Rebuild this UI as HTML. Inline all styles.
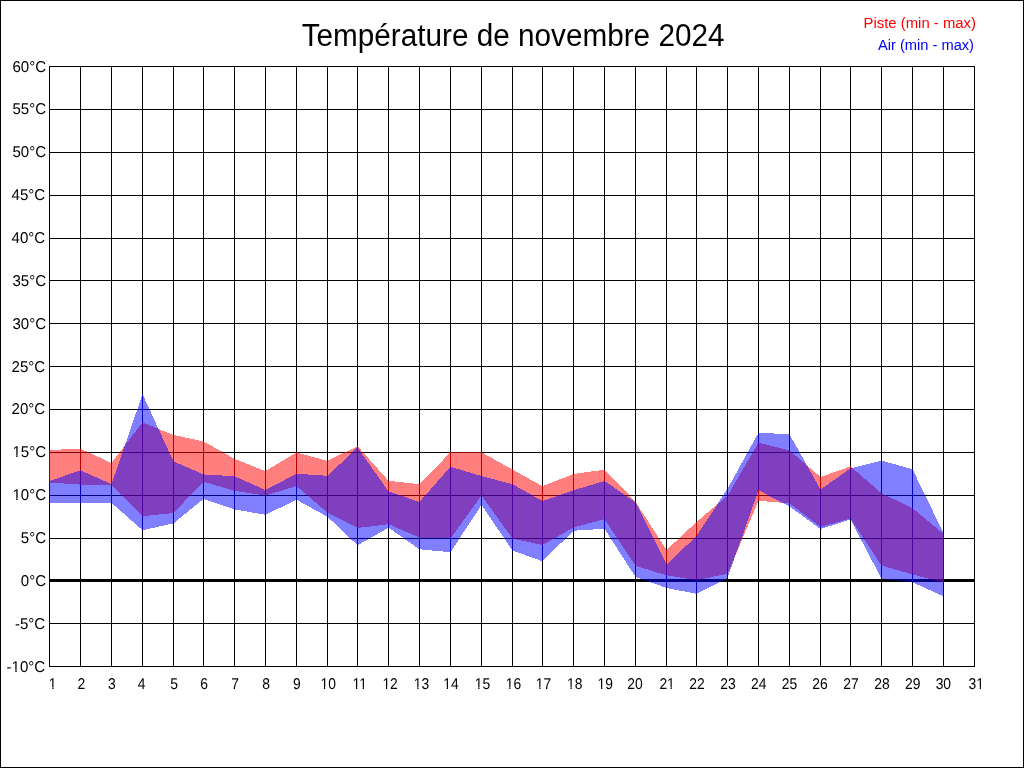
<!DOCTYPE html>
<html><head><meta charset="utf-8"><title>Température de novembre 2024</title>
<style>
html,body{margin:0;padding:0;background:#fff;}
body{width:1024px;height:768px;overflow:hidden;position:relative;}
svg{position:absolute;left:0;top:0;display:block;will-change:transform;}
text{font-family:"Liberation Sans",sans-serif;}
.r{fill:#ff0000;}
.b{fill:#0000ff;}
</style></head><body>
<svg width="1024" height="768" viewBox="0 0 1024 768">
<rect x="0" y="0" width="1024" height="768" fill="#fff"/>
<g fill="#000" shape-rendering="crispEdges">
<rect x="0" y="0" width="1024" height="1"/>
<rect x="0" y="767" width="1024" height="1"/>
<rect x="0" y="0" width="1" height="768"/>
<rect x="1023" y="0" width="1" height="768"/>
<rect x="49" y="66" width="1" height="601"/>
<rect x="80" y="66" width="1" height="601"/>
<rect x="111" y="66" width="1" height="601"/>
<rect x="142" y="66" width="1" height="601"/>
<rect x="173" y="66" width="1" height="601"/>
<rect x="203" y="66" width="1" height="601"/>
<rect x="234" y="66" width="1" height="601"/>
<rect x="265" y="66" width="1" height="601"/>
<rect x="296" y="66" width="1" height="601"/>
<rect x="327" y="66" width="1" height="601"/>
<rect x="357" y="66" width="1" height="601"/>
<rect x="388" y="66" width="1" height="601"/>
<rect x="419" y="66" width="1" height="601"/>
<rect x="450" y="66" width="1" height="601"/>
<rect x="481" y="66" width="1" height="601"/>
<rect x="512" y="66" width="1" height="601"/>
<rect x="542" y="66" width="1" height="601"/>
<rect x="573" y="66" width="1" height="601"/>
<rect x="604" y="66" width="1" height="601"/>
<rect x="635" y="66" width="1" height="601"/>
<rect x="666" y="66" width="1" height="601"/>
<rect x="696" y="66" width="1" height="601"/>
<rect x="727" y="66" width="1" height="601"/>
<rect x="758" y="66" width="1" height="601"/>
<rect x="789" y="66" width="1" height="601"/>
<rect x="820" y="66" width="1" height="601"/>
<rect x="850" y="66" width="1" height="601"/>
<rect x="881" y="66" width="1" height="601"/>
<rect x="912" y="66" width="1" height="601"/>
<rect x="943" y="66" width="1" height="601"/>
<rect x="974" y="66" width="1" height="601"/>
<rect x="49" y="66" width="926" height="1"/>
<rect x="49" y="109" width="926" height="1"/>
<rect x="49" y="152" width="926" height="1"/>
<rect x="49" y="195" width="926" height="1"/>
<rect x="49" y="238" width="926" height="1"/>
<rect x="49" y="280" width="926" height="1"/>
<rect x="49" y="323" width="926" height="1"/>
<rect x="49" y="366" width="926" height="1"/>
<rect x="49" y="409" width="926" height="1"/>
<rect x="49" y="452" width="926" height="1"/>
<rect x="49" y="495" width="926" height="1"/>
<rect x="49" y="538" width="926" height="1"/>
<rect x="49" y="579" width="926" height="3"/>
<rect x="49" y="623" width="926" height="1"/>
<rect x="49" y="666" width="926" height="1"/>
</g>
<g shape-rendering="crispEdges" fill-opacity="0.5"><polygon class="r" points="49,450.02 81,448.68 81,484.63 49,482.57"/>
<polygon class="b" points="49,481.17 81,470.13 81,502.90 49,502.90"/>
<polygon class="r" points="80,448.47 112,463.23 112,484.60 80,484.60"/>
<polygon class="b" points="80,470.08 112,484.42 112,502.90 80,502.90"/>
<polygon class="r" points="111,463.65 143,421.75 143,516.81 111,484.09"/>
<polygon class="b" points="111,485.65 143,392.65 143,530.64 111,502.46"/>
<polygon class="r" points="142,422.20 174,435.20 174,512.95 142,516.35"/>
<polygon class="b" points="142,393.01 174,462.49 174,523.29 142,530.31"/>
<polygon class="r" points="173,434.89 204,441.51 204,481.18 173,513.52"/>
<polygon class="b" points="173,461.18 204,474.62 204,498.49 173,523.81"/>
<polygon class="r" points="203,441.12 235,459.03 235,490.95 203,481.55"/>
<polygon class="b" points="203,474.37 235,476.28 235,509.57 203,498.73"/>
<polygon class="r" points="234,458.55 266,471.30 266,495.58 234,490.72"/>
<polygon class="b" points="234,476.03 266,490.22 266,514.89 234,509.31"/>
<polygon class="r" points="265,471.40 297,452.20 297,485.85 265,495.65"/>
<polygon class="b" points="265,490.26 297,473.44 297,499.56 265,515.04"/>
<polygon class="r" points="296,452.36 328,461.04 328,513.23 296,485.57"/>
<polygon class="b" points="296,473.67 328,475.83 328,516.97 296,499.53"/>
<polygon class="r" points="327,461.15 358,445.85 358,528.25 327,512.55"/>
<polygon class="b" points="327,476.27 358,447.03 358,545.78 327,516.22"/>
<polygon class="r" points="357,445.54 389,481.36 389,524.14 357,528.06"/>
<polygon class="b" points="357,446.79 389,492.11 389,527.42 357,545.58"/>
<polygon class="r" points="388,480.75 420,484.25 420,537.82 388,523.98"/>
<polygon class="b" points="388,491.23 420,502.07 420,549.65 388,527.35"/>
<polygon class="r" points="419,484.71 451,451.79 451,538.51 419,537.59"/>
<polygon class="b" points="419,502.47 451,466.13 451,552.25 419,549.25"/>
<polygon class="r" points="450,452.30 482,452.30 482,494.91 450,539.19"/>
<polygon class="b" points="450,466.55 482,476.25 482,504.24 450,552.96"/>
<polygon class="r" points="481,452.02 513,469.78 513,539.29 481,494.91"/>
<polygon class="b" points="481,475.97 513,484.33 513,551.34 481,504.26"/>
<polygon class="r" points="512,469.22 543,486.48 543,545.11 512,538.49"/>
<polygon class="b" points="512,483.92 543,501.28 543,561.43 512,550.42"/>
<polygon class="r" points="542,486.40 574,473.80 574,527.22 542,545.28"/>
<polygon class="b" points="542,501.17 574,490.13 574,530.21 542,561.74"/>
<polygon class="r" points="573,474.07 605,469.63 605,518.96 573,527.64"/>
<polygon class="b" points="573,490.45 605,480.75 605,528.77 573,530.73"/>
<polygon class="r" points="604,469.18 636,502.22 636,566.55 604,518.35"/>
<polygon class="b" points="604,480.55 636,502.85 636,577.68 604,528.02"/>
<polygon class="r" points="635,500.92 667,550.78 667,575.45 635,565.65"/>
<polygon class="b" points="635,501.50 667,565.50 667,588.18 635,576.72"/>
<polygon class="r" points="666,550.47 697,521.43 697,580.28 666,575.22"/>
<polygon class="b" points="666,564.98 697,535.52 697,593.90 666,587.90"/>
<polygon class="r" points="696,522.32 728,495.38 728,573.70 696,580.30"/>
<polygon class="b" points="696,536.76 728,488.04 728,577.75 696,594.05"/>
<polygon class="r" points="727,496.66 759,441.64 759,499.62 727,574.98"/>
<polygon class="b" points="727,489.70 759,431.90 759,488.89 727,579.41"/>
<polygon class="r" points="758,442.37 790,450.53 790,503.44 758,500.76"/>
<polygon class="b" points="758,432.78 790,434.22 790,506.76 758,490.04"/>
<polygon class="r" points="789,449.97 821,477.43 821,527.38 789,503.02"/>
<polygon class="b" points="789,433.31 821,490.39 821,529.36 789,506.14"/>
<polygon class="r" points="820,477.18 851,466.22 851,518.36 820,527.14"/>
<polygon class="b" points="820,489.85 851,468.05 851,519.34 820,529.16"/>
<polygon class="r" points="850,465.97 882,493.73 882,566.36 850,517.74"/>
<polygon class="b" points="850,468.53 882,460.47 882,579.71 850,518.54"/>
<polygon class="r" points="881,493.06 913,508.34 913,574.64 881,565.46"/>
<polygon class="b" points="881,460.46 913,469.34 913,582.36 881,578.69"/>
<polygon class="r" points="912,507.68 944,534.42 944,582.43 912,574.37"/>
<polygon class="b" points="912,468.17 944,534.13 944,596.63 912,582.07"/></g>
<g font-size="15.6px" fill="#000" text-rendering="geometricPrecision">
<g transform="translate(46.1 72) scale(0.965 1)"><text text-anchor="end">60°C</text></g>
<g transform="translate(46.1 114) scale(0.965 1)"><text text-anchor="end">55°C</text></g>
<g transform="translate(46.1 157) scale(0.965 1)"><text text-anchor="end">50°C</text></g>
<g transform="translate(45.2 200) scale(0.965 1)"><text text-anchor="end">45°C</text></g>
<g transform="translate(45.2 243) scale(0.965 1)"><text text-anchor="end">40°C</text></g>
<g transform="translate(46.1 286) scale(0.965 1)"><text text-anchor="end">35°C</text></g>
<g transform="translate(46.1 329) scale(0.965 1)"><text text-anchor="end">30°C</text></g>
<g transform="translate(45.2 372) scale(0.965 1)"><text text-anchor="end">25°C</text></g>
<g transform="translate(45.2 414) scale(0.965 1)"><text text-anchor="end">20°C</text></g>
<g transform="translate(46.1 457) scale(0.965 1)"><text text-anchor="end">15°C</text><rect x="-34.86" y="-2.17" width="3.93" height="3.17" fill="#fff"/><rect x="-29.54" y="-2.17" width="3.51" height="3.17" fill="#fff"/></g>
<g transform="translate(46.1 500) scale(0.965 1)"><text text-anchor="end">10°C</text><rect x="-34.86" y="-2.17" width="3.93" height="3.17" fill="#fff"/><rect x="-29.54" y="-2.17" width="3.51" height="3.17" fill="#fff"/></g>
<g transform="translate(46.1 543) scale(0.965 1)"><text text-anchor="end">5°C</text></g>
<g transform="translate(46.1 586) scale(0.965 1)"><text text-anchor="end">0°C</text></g>
<g transform="translate(45.2 629) scale(0.965 1)"><text text-anchor="end">-5°C</text></g>
<g transform="translate(45.2 672) scale(0.965 1)"><text text-anchor="end">-10°C</text><rect x="-34.87" y="-2.17" width="3.93" height="3.17" fill="#fff"/><rect x="-29.56" y="-2.17" width="3.51" height="3.17" fill="#fff"/></g>
<g transform="translate(52.7 689) scale(0.89 1)"><text text-anchor="middle">1</text><rect x="-4.36" y="-2.17" width="3.93" height="3.17" fill="#fff"/><rect x="0.96" y="-2.17" width="3.51" height="3.17" fill="#fff"/></g>
<g transform="translate(81.25 689) scale(0.89 1)"><text text-anchor="middle">2</text></g>
<g transform="translate(111.75 689) scale(0.89 1)"><text text-anchor="middle">3</text></g>
<g transform="translate(141.5 689) scale(0.89 1)"><text text-anchor="middle">4</text></g>
<g transform="translate(174 689) scale(0.89 1)"><text text-anchor="middle">5</text></g>
<g transform="translate(204 689) scale(0.89 1)"><text text-anchor="middle">6</text></g>
<g transform="translate(235.15 689) scale(0.89 1)"><text text-anchor="middle">7</text></g>
<g transform="translate(266 689) scale(0.89 1)"><text text-anchor="middle">8</text></g>
<g transform="translate(296.75 689) scale(0.89 1)"><text text-anchor="middle">9</text></g>
<g transform="translate(328.15 689) scale(0.89 1)"><text text-anchor="middle">10</text><rect x="-8.69" y="-2.17" width="3.93" height="3.17" fill="#fff"/><rect x="-3.38" y="-2.17" width="3.51" height="3.17" fill="#fff"/></g>
<g transform="translate(359.75 689) scale(0.89 1)"><text text-anchor="middle">11</text><rect x="-8.11" y="-2.17" width="3.93" height="3.17" fill="#fff"/><rect x="-2.79" y="-2.17" width="3.51" height="3.17" fill="#fff"/><rect x="-0.61" y="-2.17" width="3.93" height="3.17" fill="#fff"/><rect x="4.71" y="-2.17" width="3.51" height="3.17" fill="#fff"/></g>
<g transform="translate(390.1 689) scale(0.89 1)"><text text-anchor="middle">12</text><rect x="-8.69" y="-2.17" width="3.93" height="3.17" fill="#fff"/><rect x="-3.38" y="-2.17" width="3.51" height="3.17" fill="#fff"/></g>
<g transform="translate(421.5 689) scale(0.89 1)"><text text-anchor="middle">13</text><rect x="-8.69" y="-2.17" width="3.93" height="3.17" fill="#fff"/><rect x="-3.38" y="-2.17" width="3.51" height="3.17" fill="#fff"/></g>
<g transform="translate(451 689) scale(0.89 1)"><text text-anchor="middle">14</text><rect x="-8.69" y="-2.17" width="3.93" height="3.17" fill="#fff"/><rect x="-3.38" y="-2.17" width="3.51" height="3.17" fill="#fff"/></g>
<g transform="translate(482.5 689) scale(0.89 1)"><text text-anchor="middle">15</text><rect x="-8.69" y="-2.17" width="3.93" height="3.17" fill="#fff"/><rect x="-3.38" y="-2.17" width="3.51" height="3.17" fill="#fff"/></g>
<g transform="translate(513.5 689) scale(0.89 1)"><text text-anchor="middle">16</text><rect x="-8.69" y="-2.17" width="3.93" height="3.17" fill="#fff"/><rect x="-3.38" y="-2.17" width="3.51" height="3.17" fill="#fff"/></g>
<g transform="translate(543.5 689) scale(0.89 1)"><text text-anchor="middle">17</text><rect x="-8.69" y="-2.17" width="3.93" height="3.17" fill="#fff"/><rect x="-3.38" y="-2.17" width="3.51" height="3.17" fill="#fff"/></g>
<g transform="translate(574.75 689) scale(0.89 1)"><text text-anchor="middle">18</text><rect x="-8.69" y="-2.17" width="3.93" height="3.17" fill="#fff"/><rect x="-3.38" y="-2.17" width="3.51" height="3.17" fill="#fff"/></g>
<g transform="translate(605.3 689) scale(0.89 1)"><text text-anchor="middle">19</text><rect x="-8.69" y="-2.17" width="3.93" height="3.17" fill="#fff"/><rect x="-3.38" y="-2.17" width="3.51" height="3.17" fill="#fff"/></g>
<g transform="translate(635 689) scale(0.89 1)"><text text-anchor="middle">20</text></g>
<g transform="translate(667.1 689) scale(0.89 1)"><text text-anchor="middle">21</text><rect x="-0.02" y="-2.17" width="3.93" height="3.17" fill="#fff"/><rect x="5.29" y="-2.17" width="3.51" height="3.17" fill="#fff"/></g>
<g transform="translate(697 689) scale(0.89 1)"><text text-anchor="middle">22</text></g>
<g transform="translate(728 689) scale(0.89 1)"><text text-anchor="middle">23</text></g>
<g transform="translate(758.75 689) scale(0.89 1)"><text text-anchor="middle">24</text></g>
<g transform="translate(789.4 689) scale(0.89 1)"><text text-anchor="middle">25</text></g>
<g transform="translate(820 689) scale(0.89 1)"><text text-anchor="middle">26</text></g>
<g transform="translate(851.05 689) scale(0.89 1)"><text text-anchor="middle">27</text></g>
<g transform="translate(882 689) scale(0.89 1)"><text text-anchor="middle">28</text></g>
<g transform="translate(912.8 689) scale(0.89 1)"><text text-anchor="middle">29</text></g>
<g transform="translate(943.35 689) scale(0.89 1)"><text text-anchor="middle">30</text></g>
<g transform="translate(976.2 689) scale(0.89 1)"><text text-anchor="middle">31</text><rect x="-0.02" y="-2.17" width="3.93" height="3.17" fill="#fff"/><rect x="5.29" y="-2.17" width="3.51" height="3.17" fill="#fff"/></g>
</g>
<text x="513.1" y="46" text-anchor="middle" font-size="31px" textLength="422.8" lengthAdjust="spacingAndGlyphs" fill="#000">Température de novembre 2024</text>
<text x="976" y="28" text-anchor="end" font-size="14.667px" textLength="112.5" lengthAdjust="spacingAndGlyphs" fill="#f00">Piste (min - max)</text>
<text x="974" y="50" text-anchor="end" font-size="14.667px" fill="#00f">Air (min - max)</text>
</svg>
</body></html>
